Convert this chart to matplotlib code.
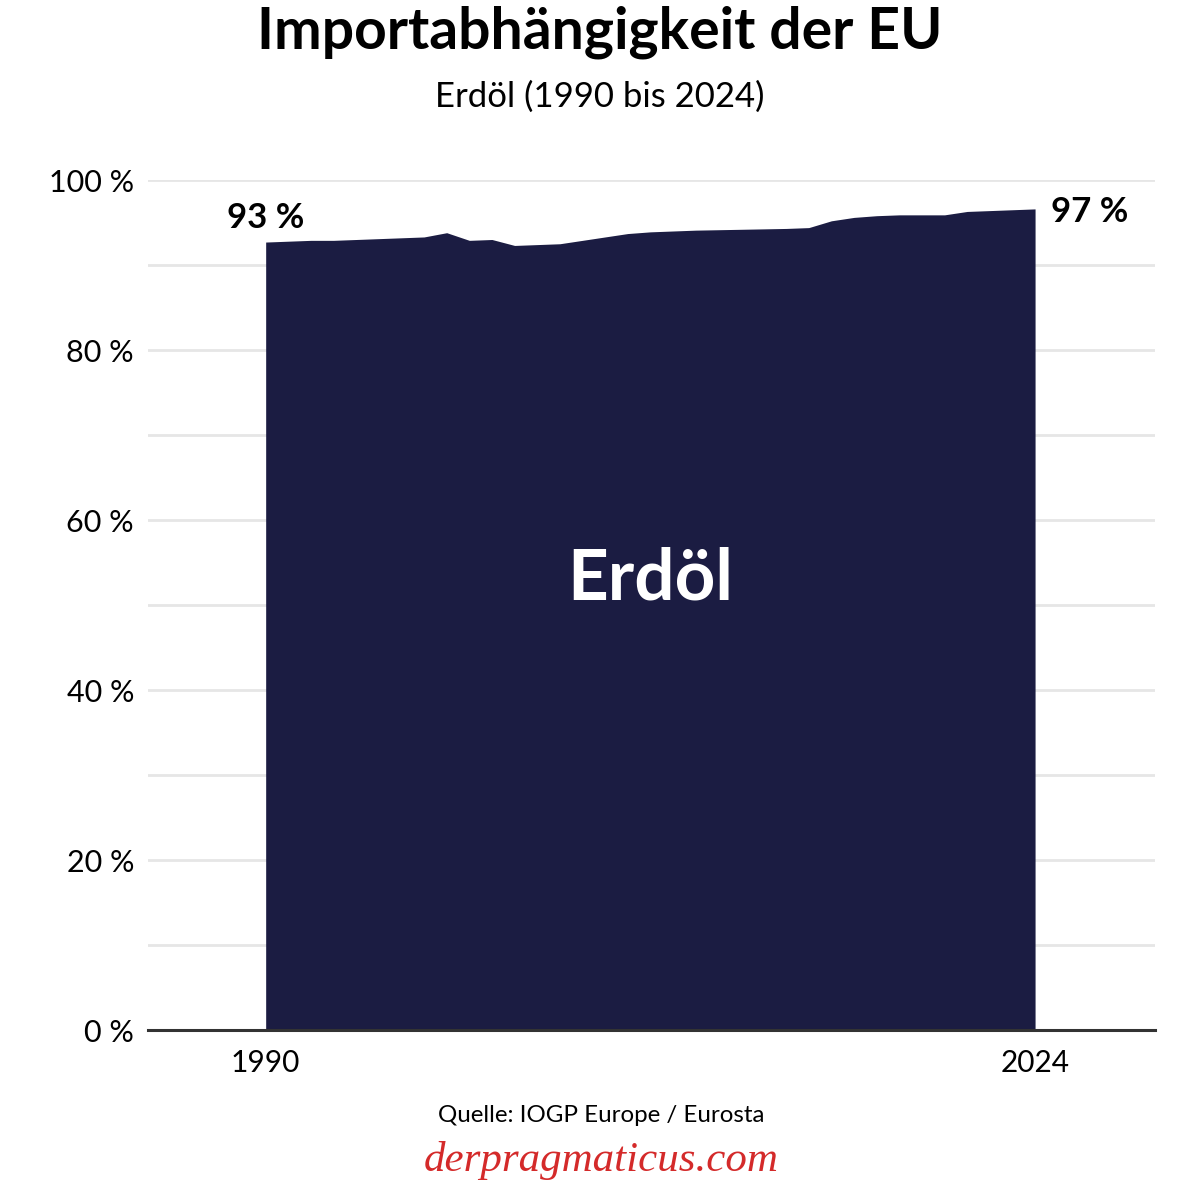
import matplotlib
matplotlib.use("Agg")
import matplotlib.pyplot as plt

plt.rcParams['font.family'] = ['Lato', 'DejaVu Sans']

# Importabhängigkeit Erdöl in %
years = list(range(1990, 2025))
share = [92.7, 92.8, 92.9, 92.9, 93.0, 93.1, 93.2, 93.3, 93.8, 92.9,
         93.0, 92.3, 92.4, 92.5, 92.9, 93.3, 93.7, 93.9, 94.0, 94.1,
         94.15, 94.2, 94.25, 94.3, 94.4, 95.2, 95.6, 95.8, 95.9, 95.9,
         95.9, 96.3, 96.4, 96.5, 96.6]

yticks = [0, 20, 40, 60, 80, 100]
ytick_labels = ["0 %", "20 %", "40 %", "60 %", "80 %", "100 %"]
xticks = [1990, 2024]

area_color = "#1b1c42"
grid_color = "#e6e6e6"

fig = plt.figure(figsize=(12, 11.96), dpi=100)
ax = fig.add_axes([148 / 1200, 166 / 1196, 1007 / 1200, 850 / 1196])

for y in range(10, 101, 10):
    ax.axhline(y, color=grid_color, lw=2, zorder=0)

ax.fill_between(years, 0, share, color=area_color, lw=0, zorder=2)
ax.axhline(0, color="#333333", lw=2.2, zorder=3, clip_on=False)

ax.set_xlim(1984.8, 2029.3)
ax.set_ylim(0, 100)
for s in ax.spines.values():
    s.set_visible(False)

ax.set_yticks(yticks)
ax.set_yticklabels(ytick_labels, fontsize=22)
ax.set_xticks(xticks)
ax.set_xticklabels([str(x) for x in xticks], fontsize=21.5)
ax.tick_params(axis="y", length=0, pad=10)
ax.tick_params(axis="x", length=0, pad=14)

# Beschriftungen
ax.text(years[0], share[0] + 0.9, f"{round(share[0])} %", ha="center", va="bottom",
        fontsize=25, fontweight="bold")
ax.text(years[-1] + 0.7, share[-1] - 0.4, f"{round(share[-1])} %", ha="left", va="center",
        fontsize=25, fontweight="bold")
ax.text(2007, 53, "Erdöl", color="white", ha="center", va="center",
        fontsize=51, fontweight="bold", zorder=4)

fig.text(0.5, 1 - 32 / 1196, "Importabhängigkeit der EU", ha="center", va="center",
         fontsize=41, fontweight="bold")
fig.text(0.5, 1 - 97 / 1196, "Erdöl (1990 bis 2024)", ha="center", va="center",
         fontsize=25)
fig.text(601 / 1200, 1 - 1115 / 1196, "Quelle: IOGP Europe / Eurosta", ha="center",
         va="center", fontsize=17.4)
fig.text(601 / 1200, 1 - 1160 / 1196, "derpragmaticus.com", ha="center", va="center",
         fontsize=31, style="italic", color="#d42a2a", family="Liberation Serif")

fig.savefig("out.png", dpi=100, facecolor="white")
